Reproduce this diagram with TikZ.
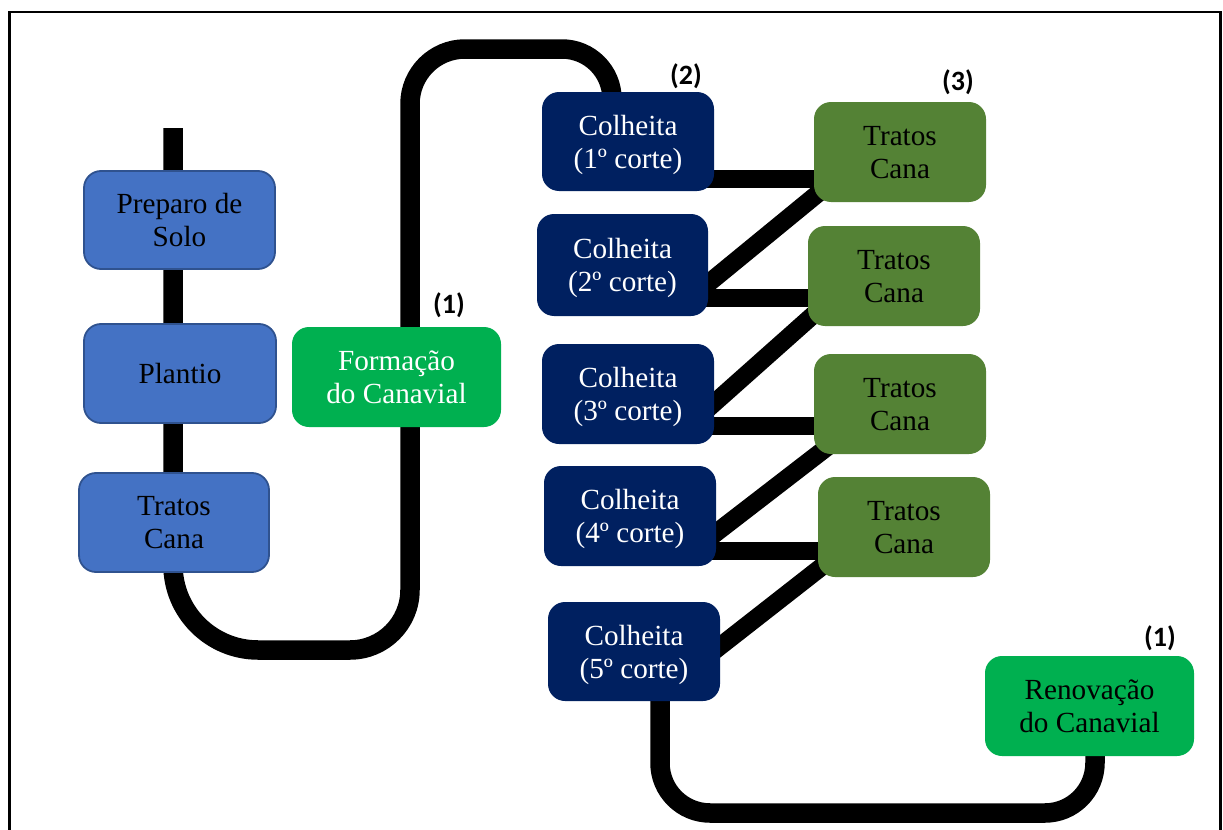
\documentclass[tikz,border=0pt]{standalone}
\usepackage{fontspec}
\setmainfont{Liberation Serif}
\newfontfamily\labelfont{Carlito}
\usetikzlibrary{calc,backgrounds}

\definecolor{stageblue}{HTML}{4472C4}
\definecolor{stageedge}{HTML}{2F528F}
\definecolor{freshgreen}{HTML}{00B050}
\definecolor{harvestnavy}{HTML}{002060}
\definecolor{careolive}{HTML}{548235}

\tikzset{
  box/.style={rounded corners=8.5pt, inner sep=0pt, align=center, text depth=-1.5pt,
    font=\fontsize{14.6}{16.5}\selectfont},
  prepbox/.style={box, fill=stageblue, draw=stageedge, line width=0.9pt, text=black},
  formbox/.style={box, fill=freshgreen, text=white},
  renbox/.style={box, fill=freshgreen, text=black},
  cutbox/.style={box, fill=harvestnavy, text=white},
  carebox/.style={box, fill=careolive, text=black},
  pipe/.style={line width=9.75pt, black},
  link/.style={line width=9pt, black},
  tag/.style={font=\labelfont\bfseries\fontsize{14}{16}\selectfont, inner sep=0pt}
}

\begin{document}
\begin{tikzpicture}[x=0.5pt, y=-0.5pt]
  \useasboundingbox (0,0) rectangle (1223,830);
  \draw[line width=1.25pt] (9.5,12) rectangle (1220.5,845);

  % planting stages
  \node[prepbox, minimum width=95.5pt, minimum height=49pt] (prep) at (179.5,220) {Preparo de\\Solo};
  \node[prepbox, minimum width=96pt, minimum height=49.5pt] (plant) at (180,373.5) {Plantio};
  \node[prepbox, minimum width=95pt, minimum height=49.5pt] (care0) at (174,522.5) {Tratos\\Cana};
  \node[formbox, minimum width=104.5pt, minimum height=50pt] (form) at (396.5,377) {Formação\\do Canavial};

  % harvests
  \node[cutbox, minimum width=86pt, minimum height=49.5pt] (c1) at (628,141.5) {Colheita\\(1º corte)};
  \node[cutbox, minimum width=85.5pt, minimum height=51pt] (c2) at (622.5,265) {Colheita\\(2º corte)};
  \node[cutbox, minimum width=86pt, minimum height=50pt] (c3) at (628,394) {Colheita\\(3º corte)};
  \node[cutbox, minimum width=86pt, minimum height=50pt] (c4) at (630,516) {Colheita\\(4º corte)};
  \node[cutbox, minimum width=86pt, minimum height=49.5pt] (c5) at (634,651.5) {Colheita\\(5º corte)};

  % ratoon care
  \node[carebox, minimum width=86pt, minimum height=50pt] (t1) at (900,152) {Tratos\\Cana};
  \node[carebox, minimum width=86pt, minimum height=50pt] (t2) at (894,276) {Tratos\\Cana};
  \node[carebox, minimum width=86pt, minimum height=50pt] (t3) at (900,404) {Tratos\\Cana};
  \node[carebox, minimum width=86pt, minimum height=50pt] (t4) at (904,527) {Tratos\\Cana};

  \node[renbox, minimum width=104.5pt, minimum height=50pt] (ren) at (1089.5,706) {Renovação\\do Canavial};

  % stage tags
  \node[tag] (tagA) at (449,305) {(1)};
  \node[tag] (tagB) at (686,76) {(2)};
  \node[tag] (tagC) at (958,82) {(3)};
  \node[tag] (tagD) at (1160,638) {(1)};

  \coordinate (feed) at (173,128);

  \begin{pgfonlayer}{background}
    % main flow from soil preparation to the first harvest
    \draw[pipe] (feed) -- (173,565)
      .. controls (173,611.9) and (211.1,650) .. (258,650) -- (350,650)
      .. controls (383.1,650) and (410,623.1) .. (410,590) -- (410,104)
      .. controls (410,73.6) and (434.6,49) .. (465,49) -- (562,49)
      .. controls (589.6,49) and (612,71.4) .. (612,99)
      -- ([xshift=-8pt,yshift=-6pt]c1.north);

    % harvest -> care
    \draw[link] ([yshift=-18.75pt]c1.east) ++(-10pt,0) -- ++(70pt,0) coordinate (h1);
    \draw[link] ([yshift=-16.5pt]c2.east) ++(-10pt,0) -- ++(70pt,0) coordinate (h2);
    \draw[link] ([yshift=-16pt]c3.east) ++(-10pt,0) -- ++(70pt,0) coordinate (h3);
    \draw[link] ([yshift=-17.5pt]c4.east) ++(-10pt,0) -- ++(70pt,0) coordinate (h4);

    % care -> next harvest
    \draw[link, shorten <=-10pt, shorten >=-8pt] ($(t1.south west)+(2,-7)$) -- ($(c2.east)+(4,15)$);
    \draw[link, shorten <=-10pt, shorten >=-8pt] ($(t2.south west)+(4,-10)$) -- ($(c3.east)+(1,8)$);
    \draw[link, shorten <=-10pt, shorten >=-8pt] ($(t3.south west)+(8,-3)$) -- ($(c4.east)+(2,15)$);
    \draw[link, shorten <=-10pt, shorten >=-8pt] ($(t4.south west)+(2,-9)$) -- ($(c5.east)+(0,-5.5)$);

    % last harvest -> renewal
    \draw[pipe] ([xshift=13pt,yshift=6pt]c5.south) -- (660,763)
      .. controls (660,790.6) and (682.4,813) .. (710,813) -- (1045,813)
      .. controls (1072.6,813) and (1095,790.6) .. (1095,763)
      -- ([xshift=2.75pt,yshift=6pt]ren.south);
  \end{pgfonlayer}
\end{tikzpicture}
\end{document}
